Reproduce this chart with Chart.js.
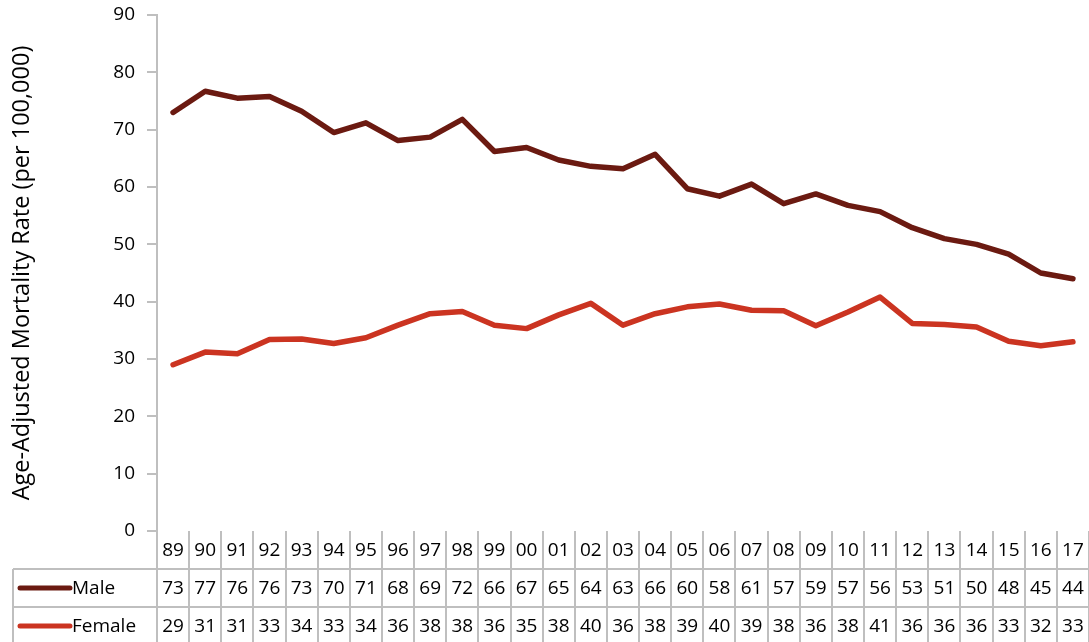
<!DOCTYPE html>
<html>
<head>
<meta charset="utf-8">
<script src="https://cdn.jsdelivr.net/npm/chart.js@4"></script>
<style>
  html,body{margin:0;padding:0;background:#fff;}
  #wrap{width:1089px;height:642px;position:relative;}
</style>
</head>
<body>
<div id="wrap"><canvas id="chart" width="1089" height="642"></canvas></div>
<script>
/* 연도 (2자리) */
const years  = ['89','90','91','92','93','94','95','96','97','98','99','00','01','02','03','04','05','06','07','08','09','10','11','12','13','14','15','16','17'];
/* 남성 / 여성 연령보정 사망률 (per 100,000) */
const male   = [73.0,76.7,75.5,75.8,73.2,69.5,71.2,68.1,68.7,71.8,66.2,66.9,64.7,63.6,63.2,65.7,59.7,58.4,60.5,57.1,58.8,56.8,55.7,52.9,51.0,50.0,48.3,45.0,44.0];
const female = [29.0,31.2,30.9,33.4,33.5,32.7,33.7,35.9,37.9,38.3,35.9,35.3,37.7,39.7,35.9,37.9,39.1,39.6,38.5,38.4,35.8,38.2,40.8,36.2,36.0,35.6,33.1,32.3,33.0];
const yTicks = [0,10,20,30,40,50,60,70,80,90];

const MALE_COLOR   = '#6b1a11';
const FEMALE_COLOR = '#cb3421';
const GRID_COLOR   = '#bfbfbf';
const FONT         = '"Open Sans", Lato, sans-serif';

/* 하단 데이터 테이블 그리기 */
const dataTable = {
  id:'dataTable',
  afterDraw(chart){
    const ctx = chart.ctx, x = chart.scales.x, area = chart.chartArea;
    const rows = [area.bottom, 569, 607, 645];
    const cellW = (area.right-area.left)/years.length;
    const tableLeft = 13;
    ctx.save();
    ctx.strokeStyle = GRID_COLOR; ctx.lineWidth = 2;
    ctx.beginPath();
    // 가로선
    [rows[1],rows[2],rows[3]].forEach(y=>{ ctx.moveTo(tableLeft,y); ctx.lineTo(area.right,y); });
    // 세로선
    for(let i=0;i<=years.length;i++){
      const xx = Math.round(area.left+i*cellW);
      ctx.moveTo(xx,rows[0]); ctx.lineTo(xx,rows[3]);
    }
    ctx.moveTo(tableLeft,rows[1]); ctx.lineTo(tableLeft,rows[3]);
    ctx.stroke();

    ctx.fillStyle = '#000';
    ctx.font = '19px '+FONT;
    ctx.textAlign = 'center'; ctx.textBaseline = 'middle';
    years.forEach((yr,i)=>{
      const cx = x.getPixelForValue(i);
      ctx.fillText(yr, cx, (rows[0]+rows[1])/2+1);
      ctx.fillText(String(Math.round(male[i])), cx, (rows[1]+rows[2])/2+1);
      ctx.fillText(String(Math.round(female[i])), cx, (rows[2]+rows[3])/2+1);
    });

    // 범례 키
    const series = [['Male',MALE_COLOR,rows[1]],['Female',FEMALE_COLOR,rows[2]]];
    series.forEach(([name,color,top])=>{
      const cy = top+19;
      ctx.strokeStyle = color; ctx.lineWidth = 5; ctx.lineCap = 'round';
      ctx.beginPath(); ctx.moveTo(20,cy); ctx.lineTo(70,cy); ctx.stroke();
      ctx.textAlign = 'left';
      ctx.fillText(name, 72, cy+1);
    });
    ctx.restore();
  }
};

new Chart(document.getElementById('chart'),{
  type:'line',
  data:{
    labels:years,
    datasets:[
      {label:'Male',   data:male,   borderColor:MALE_COLOR,   backgroundColor:MALE_COLOR,   borderWidth:5.5, pointRadius:0, tension:0, borderCapStyle:'round', borderJoinStyle:'round'},
      {label:'Female', data:female, borderColor:FEMALE_COLOR, backgroundColor:FEMALE_COLOR, borderWidth:5.5, pointRadius:0, tension:0, borderCapStyle:'round', borderJoinStyle:'round'}
    ]
  },
  options:{
    responsive:false,
    animation:false,
    layout:{padding:{top:15,right:0,left:0,bottom:0}},
    plugins:{legend:{display:false},tooltip:{enabled:false}},
    scales:{
      x:{
        offset:true,
        grid:{display:false},
        border:{display:false},
        ticks:{display:false},
        afterFit:s=>{ s.height = 111; s.paddingLeft = 0; s.paddingRight = 0; }
      },
      y:{
        min:0, max:90,
        afterBuildTicks:s=>{ s.ticks = yTicks.map(v=>({value:v})); },
        afterFit:s=>{ s.width = 157; s.paddingTop = 0; s.paddingBottom = 0; },
        grid:{drawOnChartArea:false, drawTicks:true, tickLength:10, color:GRID_COLOR, lineWidth:2},
        border:{color:GRID_COLOR, width:2},
        ticks:{color:'#000', font:{family:FONT, size:19}, padding:12},
        title:{display:true, text:'Age-Adjusted Mortality Rate (per 100,000)', color:'#000', font:{family:FONT, size:23.5}, padding:{top:8,bottom:4}}
      }
    }
  },
  plugins:[dataTable]
});
</script>
</body>
</html>
